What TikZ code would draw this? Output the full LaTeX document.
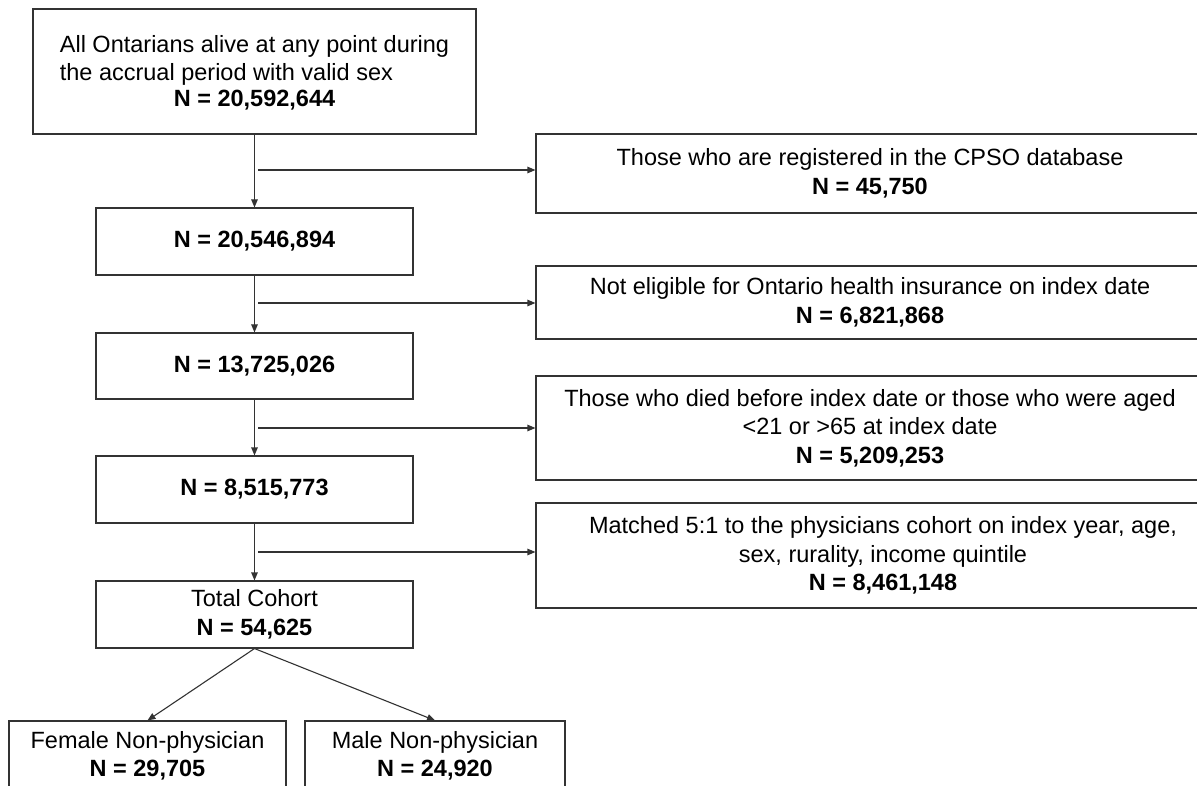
\documentclass[tikz,border=0pt]{standalone}
\usepackage{fontspec}
\setmainfont{Liberation Sans}
\usetikzlibrary{arrows.meta}
\begin{document}
\begin{tikzpicture}[x=1pt,y=-1pt,
  box/.style={draw=black!80, line width=1.1pt, inner sep=0pt, align=center,
    font=\fontsize{23.5pt}{28.5pt}\selectfont, text=black},
  conn/.style={draw=black!80, line width=1.1pt},
  arr/.style={conn, -{Triangle[length=8pt,width=6.5pt]}}]
\path[use as bounding box] (0,0) rectangle (1197,786);
\clip (0,0) rectangle (1197,786);
\fill[white] (0,0) rectangle (1197,786);
% main column
\node[box, minimum width=443pt, minimum height=125pt] (A) at (254.5,71.5)
  {\begin{tabular}{@{}l@{}}All Ontarians alive at any point during\\the accrual period with valid sex\end{tabular}\\\textbf{N = 20,592,644}};
\node[box, minimum width=317pt, minimum height=67pt] (B) at (254.5,241.5) {\textbf{N = 20,546,894}};
\node[box, minimum width=317pt, minimum height=66pt] (C) at (254.5,366) {\textbf{N = 13,725,026}};
\node[box, minimum width=317pt, minimum height=67pt] (D) at (254.5,489.5) {\textbf{N = 8,515,773}};
\node[box, minimum width=317pt, minimum height=67pt] (E) at (254.5,614.5) {Total Cohort\\\textbf{N = 54,625}};
\node[box, minimum width=277pt, minimum height=70pt] (F) at (147.5,756) {Female Non-physician\\\textbf{N = 29,705}};
\node[box, minimum width=260pt, minimum height=70pt] (M) at (435,756) {Male Non-physician\\\textbf{N = 24,920}};
% exclusion boxes
\node[box, minimum width=668pt, minimum height=79pt] (R1) at (870,173.5)
  {Those who are registered in the CPSO database\\\textbf{N = 45,750}};
\node[box, minimum width=668pt, minimum height=73pt] (R2) at (870,302.5)
  {Not eligible for Ontario health insurance on index date\\\textbf{N = 6,821,868}};
\node[box, minimum width=668pt, minimum height=104pt] (R3) at (870,428)
  {Those who died before index date or those who were aged\\<21 or >65 at index date\\\textbf{N = 5,209,253}};
\node[box, minimum width=694pt, minimum height=105pt] (R4) at (883,555.5)
  {Matched 5:1 to the physicians cohort on index year, age,\\sex, rurality, income quintile\\\textbf{N = 8,461,148}};
% trunk
\draw[arr] (A.south) -- (B.north);
\draw[arr] (B.south) -- (C.north);
\draw[arr] (C.south) -- (D.north);
\draw[arr] (D.south) -- (E.north);
% branches
\coordinate (j1) at (258,170);
\coordinate (j2) at (258,303);
\coordinate (j3) at (258,428);
\coordinate (j4) at (258,552);
\draw[arr] (j1) -- (j1 -| R1.west);
\draw[arr] (j2) -- (j2 -| R2.west);
\draw[arr] (j3) -- (j3 -| R3.west);
\draw[arr] (j4) -- (j4 -| R4.west);
% split
\draw[arr] (E.south) -- (F.north);
\draw[arr] (E.south) -- (M.north);
\end{tikzpicture}
\end{document}
